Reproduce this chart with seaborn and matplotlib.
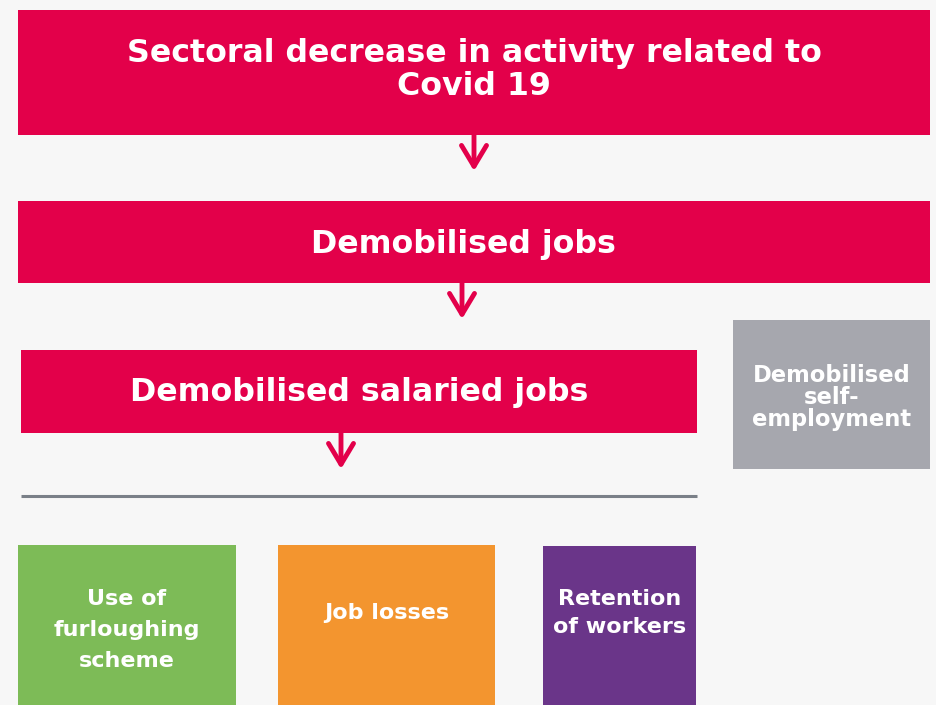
import matplotlib
matplotlib.use("Agg")
import matplotlib.pyplot as plt
import seaborn as sns
from matplotlib.patches import Rectangle

sns.set_theme(style="white")
plt.rcParams['font.family'] = ['DejaVu Sans']

# flow steps (top to bottom) and outcome boxes
step_labels = ["Sectoral decrease in activity related to\nCovid 19",
               "Demobilised jobs",
               "Demobilised salaried jobs"]
side_label = "Demobilised\nself-\nemployment"
outcome_labels = ["Use of\nfurloughing\nscheme", "Job losses", "Retention\nof workers"]

red = "#E3004A"
grey = "#A6A7AE"
outcome_colors = ["#7DBB57", "#F3952F", "#6A3589"]
bg = "#F7F7F7"

# layout in pixel units (x0, y0, x1, y1)
step_boxes = [(18, 10, 930, 135), (18, 201, 930, 283), (21, 350, 697, 433)]
step_text = [(474, 70), (463, 245), (359, 392)]
side_box = (733, 320, 930, 469)
outcome_boxes = [(18, 545, 236, 705), (278, 545, 495, 705), (543, 546, 696, 705)]
outcome_text_y = [630, 613, 613]
outcome_ls = [1.7, 1.5, 1.5]
arrows = [(474, 135, 171), (462, 283, 319), (341, 433, 469)]

fig = plt.figure(figsize=(9.37, 7.05), dpi=100, facecolor=bg)
ax = fig.add_axes([0, 0, 1, 1])
ax.set_facecolor(bg)
ax.set_xlim(0, 937)
ax.set_ylim(705, 0)
ax.axis("off")


def box(b, color):
    x0, y0, x1, y1 = b
    ax.add_patch(Rectangle((x0, y0), x1 - x0, y1 - y0, facecolor=color, edgecolor="none"))
    return (x0 + x1) / 2, (y0 + y1) / 2


for b, lab, (tx, ty) in zip(step_boxes, step_labels, step_text):
    box(b, red)
    ax.text(tx, ty, lab, color="white", fontsize=22.8, fontweight="bold",
            ha="center", va="center", linespacing=1.05)

cx, cy = box(side_box, grey)
ax.text(cx, cy + 3, side_label, color="white", fontsize=16.3, fontweight="bold",
        ha="center", va="center", linespacing=0.95)

for b, lab, c, ty, ls in zip(outcome_boxes, outcome_labels, outcome_colors,
                             outcome_text_y, outcome_ls):
    cx, cy = box(b, c)
    ax.text(cx, ty, lab, color="white", fontsize=16, fontweight="bold",
            ha="center", va="center", linespacing=ls)

for x, y0, y1 in arrows:
    ax.annotate("", xy=(x, y1), xytext=(x, y0),
                arrowprops=dict(arrowstyle="->,head_length=0.5,head_width=0.3",
                                color=red, lw=3.5, mutation_scale=30,
                                shrinkA=0, shrinkB=0))

ax.plot([21, 697], [496, 496], color="#7A8088", lw=2.2, solid_capstyle="butt")

fig.savefig("out.png", dpi=100, facecolor=bg)
